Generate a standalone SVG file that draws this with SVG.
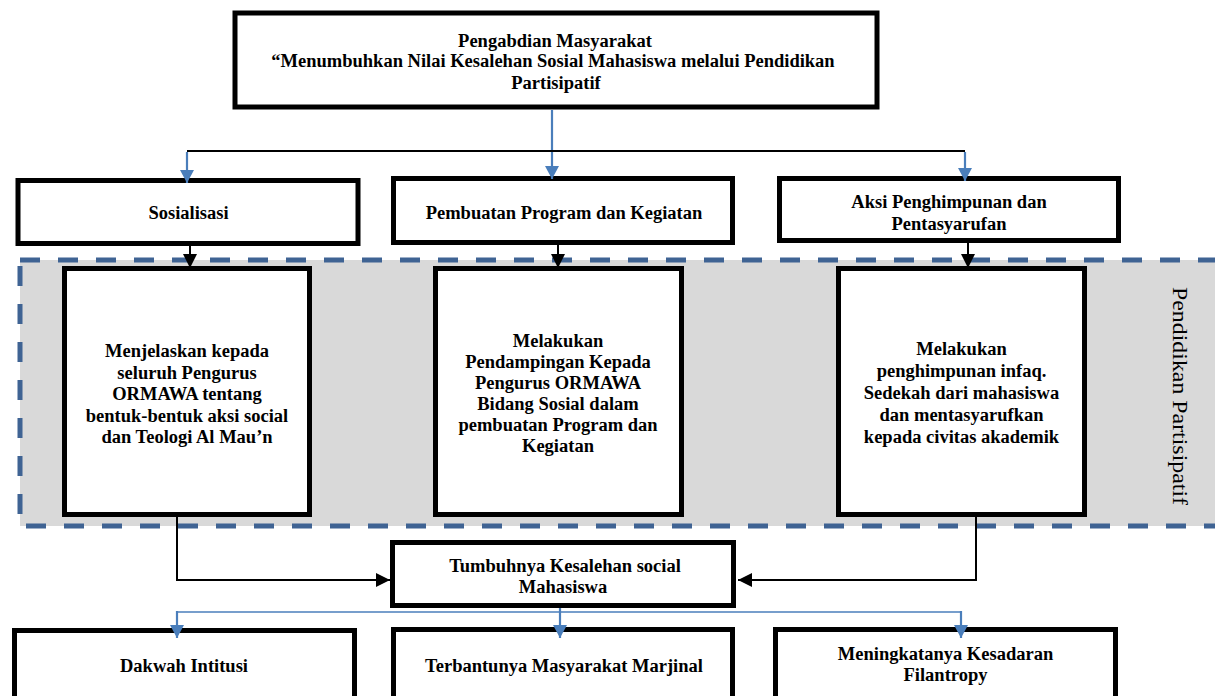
<svg xmlns="http://www.w3.org/2000/svg" width="1215" height="696" viewBox="0 0 1215 696">
  <style>
    .box { fill: #ffffff; stroke: #000000; stroke-width: 5; }
    .t { font-family: "Liberation Serif", "Times New Roman", serif; font-weight: bold; font-size: 18.5px; fill: #000000; text-anchor: middle; }
    .side { font-family: "Liberation Serif", "Times New Roman", serif; font-size: 22px; fill: #000000; text-anchor: middle; }
    .blk { fill: none; stroke: #000000; stroke-width: 2; }
    .blu { fill: none; stroke: #4A7EBB; stroke-width: 2.2; }
    .blu2 { fill: none; stroke: #4A7EBB; stroke-width: 1.6; }
  </style>
  <defs>
    <marker id="ab" markerUnits="userSpaceOnUse" markerWidth="16" markerHeight="16" refX="14" refY="7" orient="auto">
      <path d="M0,0 L14,7 L0,14 z" fill="#000000"/>
    </marker>
    <marker id="au" markerUnits="userSpaceOnUse" markerWidth="16" markerHeight="16" refX="13" refY="7" orient="auto">
      <path d="M0,0 L13,7 L0,14 z" fill="#4A7EBB"/>
    </marker>
  </defs>
  <rect width="1215" height="696" fill="#ffffff"/>

  <g id="band">
    <rect x="20" y="260" width="1210" height="266" fill="#D9D9D9" stroke="#3F6393" stroke-width="5" stroke-dasharray="20 18"/>
    <text class="side" transform="translate(1173,396) rotate(90)" textLength="218" lengthAdjust="spacingAndGlyphs">Pendidikan Partisipatif</text>
  </g>

  <g id="n-top">
    <rect class="box" x="235" y="13" width="642" height="94"/>
    <text class="t" x="555" y="46.5">Pengabdian Masyarakat</text>
    <text class="t" x="553" y="67">“Menumbuhkan Nilai Kesalehan Sosial Mahasiswa melalui Pendidikan</text>
    <text class="t" x="556" y="88.5">Partisipatif</text>
  </g>

  <g id="n-sosialisasi">
    <rect class="box" x="18" y="180.5" width="340" height="63"/>
    <text class="t" x="188.5" y="219">Sosialisasi</text>
  </g>
  <g id="n-pembuatan">
    <rect class="box" x="393.5" y="178.5" width="339" height="64"/>
    <text class="t" x="564" y="219">Pembuatan Program dan Kegiatan</text>
  </g>
  <g id="n-aksi">
    <rect class="box" x="779.5" y="178.5" width="339" height="62"/>
    <text class="t" x="949" y="208">Aksi Penghimpunan dan</text>
    <text class="t" x="949" y="229.5">Pentasyarufan</text>
  </g>

  <g id="n-menjelaskan">
    <rect class="box" x="64.5" y="268.5" width="245" height="246"/>
    <text class="t" x="187" y="357">Menjelaskan kepada</text>
    <text class="t" x="187" y="378.5">seluruh Pengurus</text>
    <text class="t" x="187" y="400">ORMAWA tentang</text>
    <text class="t" x="187" y="421.5">bentuk-bentuk aksi social</text>
    <text class="t" x="187" y="443">dan Teologi Al Mau’n</text>
  </g>
  <g id="n-pendampingan">
    <rect class="box" x="435.5" y="268.5" width="246" height="246"/>
    <text class="t" x="558" y="347">Melakukan</text>
    <text class="t" x="558" y="368">Pendampingan Kepada</text>
    <text class="t" x="558" y="389">Pengurus ORMAWA</text>
    <text class="t" x="558" y="410">Bidang Sosial dalam</text>
    <text class="t" x="558" y="431">pembuatan Program dan</text>
    <text class="t" x="558" y="452">Kegiatan</text>
  </g>
  <g id="n-penghimpunan">
    <rect class="box" x="838.5" y="268.5" width="246" height="246"/>
    <text class="t" x="961.5" y="355">Melakukan</text>
    <text class="t" x="961.5" y="377">penghimpunan infaq.</text>
    <text class="t" x="961.5" y="399">Sedekah dari mahasiswa</text>
    <text class="t" x="961.5" y="421">dan mentasyarufkan</text>
    <text class="t" x="961.5" y="443">kepada civitas akademik</text>
  </g>

  <g id="n-tumbuhnya">
    <rect class="box" x="392.5" y="542.5" width="341" height="63"/>
    <text class="t" x="565" y="571.5">Tumbuhnya Kesalehan social</text>
    <text class="t" x="563" y="592.5">Mahasiswa</text>
  </g>

  <g id="n-dakwah">
    <rect class="box" x="14.5" y="630.5" width="340" height="80"/>
    <text class="t" x="184" y="671.5">Dakwah Intitusi</text>
  </g>
  <g id="n-terbantunya">
    <rect class="box" x="393.5" y="629.5" width="339" height="80"/>
    <text class="t" x="564" y="671.5">Terbantunya Masyarakat Marjinal</text>
  </g>
  <g id="n-meningkatanya">
    <rect class="box" x="775.5" y="629.5" width="340" height="80"/>
    <text class="t" x="945.5" y="660">Meningkatanya Kesadaran</text>
    <text class="t" x="945.5" y="681">Filantropy</text>
  </g>

  <g id="connectors">
    <line class="blu" x1="552" y1="110" x2="552" y2="179" marker-end="url(#au)"/>
    <line class="blk" x1="187" y1="151" x2="965" y2="151"/>
    <line class="blu" x1="187" y1="152" x2="187" y2="183" marker-end="url(#au)"/>
    <line class="blu" x1="965" y1="152" x2="965" y2="181" marker-end="url(#au)"/>

    <line class="blk" x1="190" y1="246" x2="190" y2="268" marker-end="url(#ab)"/>
    <line class="blk" x1="558" y1="245" x2="558" y2="268" marker-end="url(#ab)"/>
    <line class="blk" x1="968" y1="243" x2="968" y2="268" marker-end="url(#ab)"/>

    <polyline class="blk" points="177,517 177,580 390,580" marker-end="url(#ab)"/>
    <polyline class="blk" points="976,517 976,580 738,580" marker-end="url(#ab)"/>

    <line class="blu2" x1="177" y1="612" x2="961" y2="612"/>
    <line class="blu" x1="560" y1="608" x2="560" y2="638" marker-end="url(#au)"/>
    <line class="blu" x1="177" y1="611" x2="177" y2="638" marker-end="url(#au)"/>
    <line class="blu" x1="961" y1="611" x2="961" y2="638" marker-end="url(#au)"/>
  </g>
</svg>
